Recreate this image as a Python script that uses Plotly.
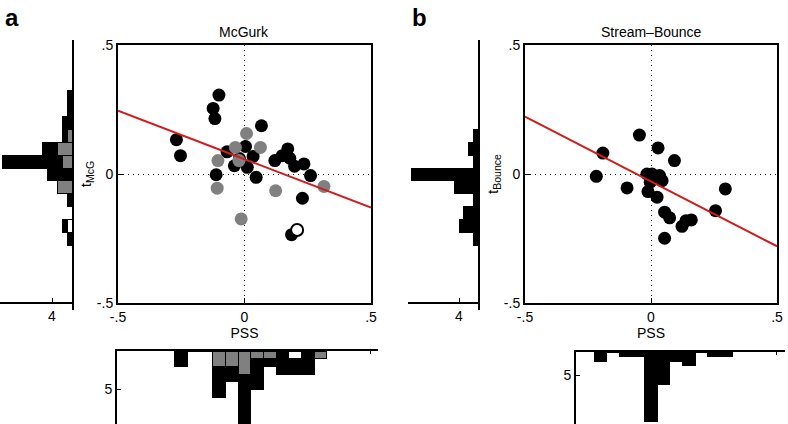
import plotly.graph_objects as go

W, H = 788, 424

# ---- panel a : McGurk ----
mcg_black_x = [-0.101, -0.124, -0.117, -0.269, -0.253, -0.112, -0.069, 0.004, 0.034, -0.040,
               0.011, 0.046, 0.067, 0.120, 0.149, 0.171, 0.179, 0.198, 0.235, 0.261, 0.229, 0.186, -0.020]
mcg_black_y = [0.306, 0.254, 0.215, 0.133, 0.071, -0.003, 0.086, 0.107, 0.068, 0.032,
               0.026, -0.013, 0.187, 0.052, 0.071, 0.097, 0.061, 0.030, 0.039, -0.006, -0.094, -0.235, 0.060]
mcg_gray_x = [0.008, -0.036, 0.063, -0.105, -0.022, -0.108, 0.123, 0.314, -0.013]
mcg_gray_y = [0.157, 0.103, 0.103, 0.052, 0.052, -0.055, -0.065, -0.048, -0.174]
mcg_white_x = [0.208]
mcg_white_y = [-0.217]
mcg_fit_x = [-0.5, 0.5]
mcg_fit_y = [0.245, -0.13]

# histogram of t (left), bins of 0.05
mcg_t_bins = [0.30, 0.25, 0.20, 0.15, 0.10, 0.05, 0.00, -0.05, -0.10, -0.15, -0.20, -0.25]
mcg_t_gray = [0, 0, 0, 1, 3, 2, 0, 3, 0, 0, 0, 0]
mcg_t_white = [0, 0, 0, 0, 0, 0, 0, 0, 0, 0, 1, 0]
mcg_t_black = [1, 1, 2, 1, 3, 12, 5, 0, 1, 0, 1, 1]

# histogram of PSS (bottom)
mcg_p_bins = [-0.25, -0.20, -0.15, -0.10, -0.05, 0.00, 0.05, 0.10, 0.15, 0.20, 0.25, 0.30]
mcg_p_gray = [0, 0, 0, 2, 2, 3, 1, 1, 0, 0, 0, 1]
mcg_p_white = [0, 0, 0, 0, 0, 0, 0, 0, 0, 1, 0, 0]
mcg_p_black = [2, 0, 0, 4, 2, 7, 4, 1, 3, 2, 3, 0]

# ---- panel b : Stream-Bounce ----
sb_x = [-0.217, -0.191, -0.046, -0.095, -0.016, 0.004, 0.034, 0.044, -0.012, 0.028, 0.024,
        0.093, 0.054, 0.074, 0.054, 0.123, 0.139, 0.160, 0.256, 0.295, -0.003]
sb_y = [-0.009, 0.081, 0.151, -0.054, 0.000, 0.000, -0.006, -0.026, -0.068, 0.101, -0.090,
        0.052, -0.148, -0.170, -0.249, -0.203, -0.181, -0.178, -0.142, -0.058, -0.032]
sb_fit_x = [-0.5, 0.5]
sb_fit_y = [0.222, -0.28]

sb_t_bins = [0.15, 0.10, 0.05, 0.00, -0.05, -0.10, -0.15, -0.20, -0.25]
sb_t_counts = [1, 2, 1, 14, 5, 1, 3, 4, 1]
sb_p_bins = [-0.20, -0.15, -0.10, -0.05, 0.00, 0.05, 0.10, 0.15, 0.20, 0.25, 0.30]
sb_p_counts = [2, 0, 1, 1, 15, 7, 2, 3, 0, 1, 1]

BW = 0.05
GRAY = 'rgb(128,128,128)'
RED = 'rgb(208,28,28)'
FONT = 'Liberation Sans, Arial, sans-serif'


def px(x):
    return x / W


def py(y):
    return 1 - y / H


fig = go.Figure()

# scatter a
fig.add_trace(go.Scatter(x=mcg_black_x, y=mcg_black_y, mode='markers', xaxis='x', yaxis='y',
                         marker=dict(size=13, color='black', line=dict(width=0))))
fig.add_trace(go.Scatter(x=mcg_gray_x, y=mcg_gray_y, mode='markers', xaxis='x', yaxis='y',
                         marker=dict(size=13, color=GRAY, line=dict(width=0))))
fig.add_trace(go.Scatter(x=mcg_white_x, y=mcg_white_y, mode='markers', xaxis='x', yaxis='y',
                         marker=dict(size=12, color='white', line=dict(width=2, color='black'))))
fig.add_trace(go.Scatter(x=mcg_fit_x, y=mcg_fit_y, mode='lines', xaxis='x', yaxis='y',
                         line=dict(color=RED, width=2)))

# scatter b
fig.add_trace(go.Scatter(x=sb_x, y=sb_y, mode='markers', xaxis='x2', yaxis='y2',
                         marker=dict(size=13, color='black', line=dict(width=0))))
fig.add_trace(go.Scatter(x=sb_fit_x, y=sb_fit_y, mode='lines', xaxis='x2', yaxis='y2',
                         line=dict(color=RED, width=2)))

# left histogram a (gray/white nearest the axis, black stacked beyond)
for vals, col in [(mcg_t_gray, GRAY), (mcg_t_white, 'white'), (mcg_t_black, 'black')]:
    fig.add_trace(go.Bar(y=mcg_t_bins, x=vals, orientation='h', width=BW, xaxis='x3', yaxis='y3',
                         marker=dict(color=col, line=dict(color='black', width=1))))

# bottom histogram a
for vals, col in [(mcg_p_gray, GRAY), (mcg_p_white, 'white'), (mcg_p_black, 'black')]:
    fig.add_trace(go.Bar(x=mcg_p_bins, y=vals, width=BW, xaxis='x4', yaxis='y4',
                         marker=dict(color=col, line=dict(color='black', width=1))))

# histograms b
fig.add_trace(go.Bar(y=sb_t_bins, x=sb_t_counts, orientation='h', width=BW, xaxis='x5', yaxis='y5',
                     marker=dict(color='black', line=dict(color='black', width=1))))
fig.add_trace(go.Bar(x=sb_p_bins, y=sb_p_counts, width=BW, xaxis='x6', yaxis='y6',
                     marker=dict(color='black', line=dict(color='black', width=1))))

main_ticks = dict(tickvals=[-0.5, 0, 0.5], ticktext=['-.5', '0', '.5'], range=[-0.5, 0.5],
                  showline=True, mirror=True, linecolor='black', linewidth=2,
                  ticks='inside', ticklen=5, tickcolor='black', tickwidth=1,
                  showgrid=True, gridcolor='black', griddash='1px,4px', gridwidth=1,
                  zeroline=False, tickfont=dict(size=14, color='black'), automargin=False)
hist_ax = dict(showline=True, linecolor='black', linewidth=2, showgrid=False, zeroline=False,
               ticks='inside', ticklen=4, tickcolor='black', tickwidth=1,
               tickfont=dict(size=14, color='black'), automargin=False)
hist_bare = dict(showline=True, linecolor='black', linewidth=2, showgrid=False, zeroline=False,
                 showticklabels=False, ticks='', automargin=False)
hist_top = dict(tickvals=[0.5], showticklabels=False, showline=True, linecolor='black', linewidth=2,
                showgrid=False, zeroline=False, ticks='inside', ticklen=3, tickcolor='black',
                automargin=False)

fig.update_layout(
    width=W, height=H, margin=dict(l=0, r=0, t=0, b=0, autoexpand=False),
    paper_bgcolor='white', plot_bgcolor='rgba(0,0,0,0)',
    showlegend=False, barmode='stack',
    font=dict(family=FONT, size=13, color='black'),
    # main a
    xaxis=dict(domain=[px(118), px(371)], anchor='y',
               title=dict(text='PSS', standoff=0, font=dict(size=14)), **main_ticks),
    yaxis=dict(domain=[py(303), py(45)], anchor='x',
               title=dict(text='t<sub>McG</sub>', standoff=2, font=dict(size=15)), **main_ticks),
    # main b
    xaxis2=dict(domain=[px(525), px(777)], anchor='y2',
                title=dict(text='PSS', standoff=0, font=dict(size=14)), **main_ticks),
    yaxis2=dict(domain=[py(303), py(45)], anchor='x2',
                title=dict(text='t<sub>Bounce</sub>', standoff=2, font=dict(size=15)), **main_ticks),
    # left hist a
    xaxis3=dict(domain=[px(0), px(72)], range=[14.4, 0], anchor='free', position=py(303),
                side='bottom', tickvals=[4], ticktext=['4'], **hist_ax),
    yaxis3=dict(domain=[py(310), py(40)], range=[-0.525, 0.521], anchor='x3', side='right',
                **hist_bare),
    # bottom hist a
    xaxis4=dict(domain=[px(117), px(378)], range=[-0.504, 0.528], anchor='y4', side='top',
                **hist_top),
    yaxis4=dict(domain=[py(424), py(351)], range=[9.52, 0], anchor='x4', side='left',
                tickvals=[5], ticktext=['5'], **hist_ax),
    # left hist b
    xaxis5=dict(domain=[px(408), px(478)], range=[14.74, 0], anchor='free', position=py(303),
                side='bottom', tickvals=[4], ticktext=['4'], **hist_ax),
    yaxis5=dict(domain=[py(310), py(40)], range=[-0.525, 0.521], anchor='x5', side='right',
                **hist_bare),
    # bottom hist b
    xaxis6=dict(domain=[px(576), px(785)], range=[-0.298, 0.532], anchor='y6', side='top',
                **hist_top),
    yaxis6=dict(domain=[py(424), py(352)], range=[15.65, 0], anchor='x6', side='left',
                tickvals=[5], ticktext=['5'], **hist_ax),
)

fig.add_annotation(text='<b>a</b>', xref='paper', yref='paper', x=px(3), y=py(2),
                   xanchor='left', yanchor='top', showarrow=False, font=dict(size=24))
fig.add_annotation(text='<b>b</b>', xref='paper', yref='paper', x=px(410), y=py(2),
                   xanchor='left', yanchor='top', showarrow=False, font=dict(size=24))
fig.add_annotation(text='McGurk', xref='paper', yref='paper', x=px(244), y=py(32),
                   xanchor='center', yanchor='middle', showarrow=False, font=dict(size=14))
fig.add_annotation(text='Stream\u2013Bounce', xref='paper', yref='paper', x=px(651), y=py(32),
                   xanchor='center', yanchor='middle', showarrow=False, font=dict(size=14))

# page body has a default 8px margin; remove it so the figure sits at the window corner
fig.write_html("out.html", config={'displayModeBar': False},
               post_script="document.body.style.margin='0';")
